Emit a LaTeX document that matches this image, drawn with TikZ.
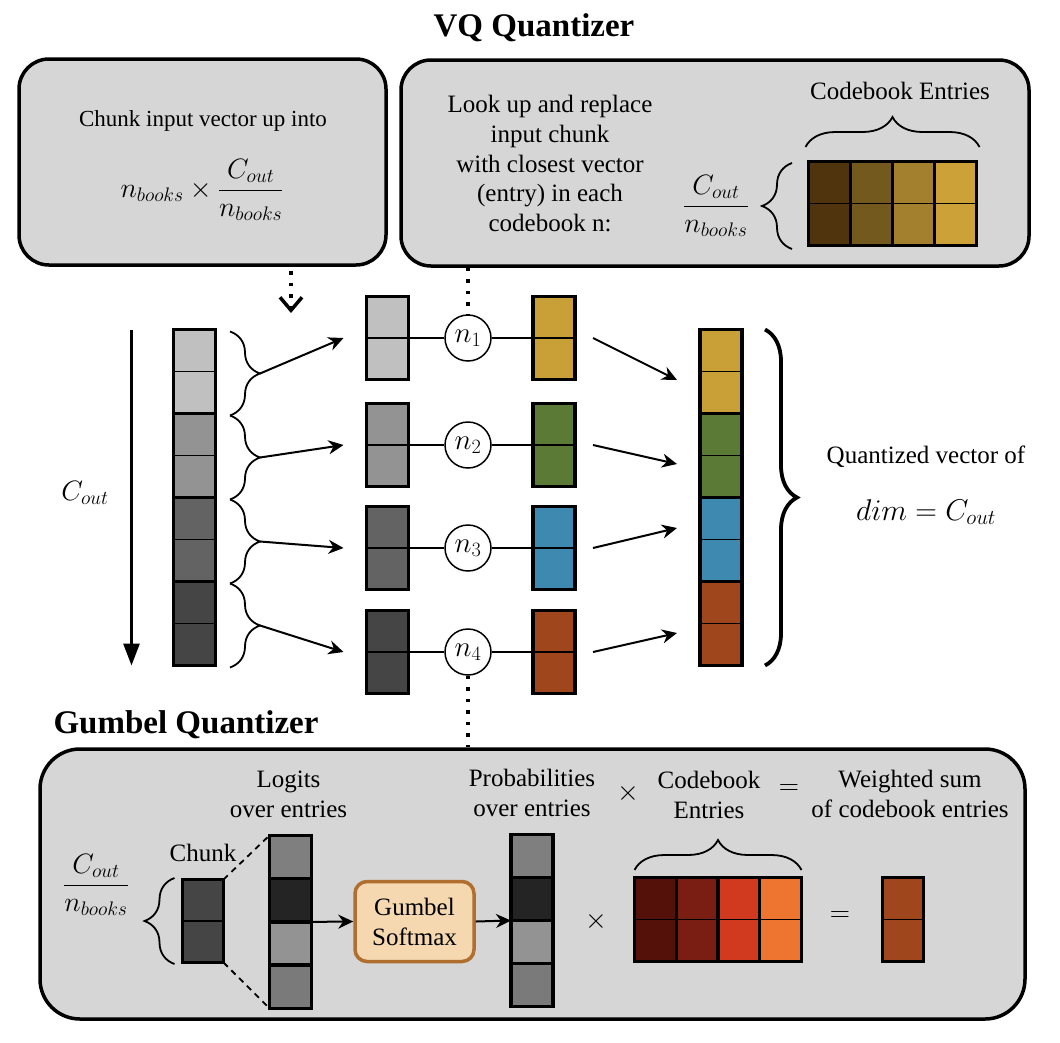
\documentclass[tikz,border=0pt]{standalone}
\usepackage{fix-cm}
\usepackage{amsmath}
\usepackage{fontspec}
\setmainfont{Liberation Serif}
\usetikzlibrary{arrows.meta,decorations.pathreplacing,calc}
\definecolor{boxgray}{RGB}{214,214,214}
\definecolor{g1}{RGB}{192,192,192}
\definecolor{g2}{RGB}{147,147,147}
\definecolor{g3}{RGB}{99,99,99}
\definecolor{g4}{RGB}{69,69,69}
\definecolor{q1}{RGB}{201,159,56}
\definecolor{q2}{RGB}{91,122,53}
\definecolor{q3}{RGB}{62,137,176}
\definecolor{q4}{RGB}{160,70,28}
\definecolor{k1}{RGB}{80,52,14}
\definecolor{k2}{RGB}{116,89,30}
\definecolor{k3}{RGB}{162,128,46}
\definecolor{k4}{RGB}{203,161,56}
\definecolor{bb1}{RGB}{84,17,10}
\definecolor{bb2}{RGB}{122,29,18}
\definecolor{bb3}{RGB}{210,58,32}
\definecolor{bb4}{RGB}{238,117,48}
\definecolor{lg1}{RGB}{127,127,127}
\definecolor{lg2}{RGB}{36,36,36}
\definecolor{lg3}{RGB}{147,147,147}
\definecolor{lg4}{RGB}{122,122,122}
\definecolor{gfill}{RGB}{245,216,176}
\definecolor{gborder}{RGB}{176,111,46}
\begin{document}
\begin{tikzpicture}[x=1pt,y=-1pt,
  bigbox/.style={draw, line width=3.5pt, fill=boxgray, rounded corners=30pt, inner sep=0},
  cellv/.style={draw, line width=3.4pt, minimum width=42pt, minimum height=84pt, inner sep=0, outer sep=0},
  midline/.style={line width=1.6pt},
  lab/.style={font=\fontsize{25}{30}\selectfont, align=center, inner sep=0},
  mlab/.style={font=\fontsize{28}{34}\selectfont, inner sep=0},
  ttl/.style={font=\fontsize{33}{40}\selectfont\bfseries, inner sep=0},
  circ/.style={circle, draw, fill=white, line width=1.5pt, minimum size=46pt, inner sep=0, font=\fontsize{29}{34}\selectfont},
  conn/.style={line width=1.5pt},
  arr/.style={line width=2pt, -{Stealth[length=15pt,width=14pt]}},
  brc/.style={decorate, decoration={brace, amplitude=30pt}, line width=1.8pt},
  dotline/.style={line width=3.5pt, dash pattern=on 3.5pt off 8pt},
  dashline/.style={line width=1.8pt, dash pattern=on 6pt off 5pt}
]
\useasboundingbox (0,0) rectangle (1060,1042);

% ---------- titles ----------
\node[ttl] (vqt) at (534,28) {VQ Quantizer};
\node[ttl] (gqt) at (186,725) {Gumbel Quantizer};

% ---------- top boxes ----------
\node[bigbox, minimum width=367pt, minimum height=206pt] (tl) at (202.5,162) {};
\node[bigbox, minimum width=628pt, minimum height=206pt] (tr) at (715,163) {};
\node[lab, font=\fontsize{23}{28}\selectfont] (tltxt) at (203,121) {Chunk input vector up into};
\node[mlab] (tlmath) at (202,190) {$n_{books}\times\dfrac{C_{out}}{n_{books}}$};
\node[lab, font=\fontsize{25}{29.8}\selectfont] (trtxt) at (550,163.5) {Look up and replace\\input chunk\\with closest vector\\(entry) in each\\codebook n:};
\node[lab] (cbe) at (900,91) {Codebook Entries};
\node[mlab] (trfrac) at (716,206) {$\dfrac{C_{out}}{n_{books}}$};
\foreach \i/\c/\x in {1/k1/829.5, 2/k2/871.5, 3/k3/913.5, 4/k4/955.5}{
  \node[cellv, fill=\c] (K\i) at (\x,203.5) {};
}
\draw[midline] (K1.west) -- (K4.east);
\draw[brc] ($(K1.north west)+(-3,-14.5)$) -- ($(K4.north east)+(3,-14.5)$);
\draw[brc] ($(K1.south west)+(-16.5,3.5)$) -- ($(K1.north west)+(-16.5,1.5)$);

% ---------- bottom box ----------
\node[bigbox, rounded corners=40pt, minimum width=985pt, minimum height=270pt] (gb) at (532.5,884) {};

% ---------- input vector ----------
\foreach \i/\c/\y in {1/g1/371.5, 2/g2/455.5, 3/g3/539.5, 4/g4/623.5}{
  \node[cellv, fill=\c] (L\i) at (194.5,\y) {};
  \draw[midline] (L\i.west) -- (L\i.east);
  \coordinate (t\i) at ($(L\i.east)+(44.5,2)$);
  \draw[brc] ($(L\i.north east)+(14.5,2)$) -- ($(L\i.south east)+(14.5,2)$);
}
\draw[line width=3pt, -{Triangle[length=22pt,width=16pt]}] ($(L1.north west)+(-42,0)$) -- ($(L4.south west)+(-42,0)$);
\node[mlab] (cout) at (85,493) {$C_{out}$};

% ---------- chunks, codebook nodes ----------
\foreach \i/\c/\d/\y in {1/g1/q1/338, 2/g2/q2/445, 3/g3/q3/548, 4/g4/q4/652}{
  \node[cellv, minimum height=83pt, fill=\c] (M\i) at (387.5,\y) {};
  \draw[midline] (M\i.west) -- (M\i.east);
  \node[cellv, minimum height=83pt, fill=\d] (C\i) at (554,\y) {};
  \draw[midline] (C\i.west) -- (C\i.east);
  \node[circ] (n\i) at (468,\y) {$n_{\i}$};
  \draw[conn] (M\i.east) -- (n\i);
  \draw[conn] (n\i) -- (C\i.west);
  \draw[arr] (t\i) -- ($(M\i.west)+(-23,0)$);
}

% ---------- output vector ----------
\foreach \i/\d/\y in {1/q1/371.5, 2/q2/455.5, 3/q3/539.5, 4/q4/623.5}{
  \node[cellv, fill=\d] (O\i) at (721,\y) {};
  \draw[midline] (O\i.west) -- (O\i.east);
}
\draw[arr] ($(C1.east)+(18,0)$) -- ($(O1.west)+(-23,8.5)$);
\draw[arr] ($(C2.east)+(18,0)$) -- ($(O2.west)+(-23,8.5)$);
\draw[arr] ($(C3.east)+(18,0)$) -- ($(O3.west)+(-23,-11.5)$);
\draw[arr] ($(C4.east)+(18,0)$) -- ($(O4.west)+(-23,9.5)$);
\draw[brc, line width=3.8pt, decoration={brace, amplitude=32pt}] ($(O1.north east)+(23,0)$) -- ($(O4.south east)+(23,0)$);
\node[lab] (qv) at (926,457) {Quantized vector of};
\node[mlab, font=\fontsize{30}{36}\selectfont] (qdim) at (926,512) {$dim = C_{out}$};

% ---------- dotted links ----------
\coordinate (da) at (291,271);
\coordinate (db) at (291,313);
\draw[dotline, -{Straight Barb[length=13pt,width=22pt]}] (da) -- (db);
\draw[dotline] (n1 |- tr.south) -- (n1.north);
\draw[dotline] (n4.south) -- (n4 |- gb.north);

% ---------- gumbel contents ----------
\node[lab] (lgt) at (288.5,794) {Logits\\over entries};
\node[lab] (pbt) at (532,793) {Probabilities\\over entries};
\node[mlab] (x1) at (628,793) {$\times$};
\node[lab] (cbt) at (709,795) {Codebook\\Entries};
\node[mlab] (e1) at (789,790) {$=$};
\node[lab] (wst) at (910,794) {Weighted sum\\of codebook entries};
\node[mlab] (gfrac) at (96,885) {$\dfrac{C_{out}}{n_{books}}$};
\node[lab] (chl) at (203,853) {Chunk};
\node[cellv, minimum width=41pt, minimum height=83pt, fill=g4] (ch) at (203,921) {};
\draw[midline] (ch.west) -- (ch.east);
\draw[brc] ($(ch.south west)+(-8,1.5)$) -- ($(ch.north west)+(-8,-1.5)$);
\foreach \i/\c/\y in {1/lg1/857, 2/lg2/900.25, 3/lg3/943.5, 4/lg4/986.75}{
  \node[cellv, minimum height=43.25pt, fill=\c] (G\i) at (290.5,\y) {};
}
\foreach \i/\c/\y in {1/lg1/856, 2/lg2/899, 3/lg3/942, 4/lg4/985}{
  \node[cellv, minimum height=43pt, fill=\c] (P\i) at (532,\y) {};
}
\draw[dashline] (ch.north east) -- (G1.north west);
\draw[dashline] (ch.south east) -- (G4.south west);
\node[draw=gborder, fill=gfill, line width=3.5pt, rounded corners=12pt, minimum width=119pt, minimum height=80pt, lab] (gs) at (414.5,921.5) {Gumbel\\Softmax};
\draw[arr] (G2.south east) -- (gs.west);
\draw[arr] (gs.east) -- (P2.south west);
\node[mlab] (x2) at (596,921) {$\times$};
\foreach \i/\c/\x in {1/bb1/655.4, 2/bb2/697.1, 3/bb3/738.9, 4/bb4/780.6}{
  \node[cellv, minimum width=41.75pt, fill=\c] (B\i) at (\x,919.5) {};
}
\draw[midline] (B1.west) -- (B4.east);
\draw[brc] ($(B1.north west)+(0,-7.5)$) -- ($(B4.north east)+(0,-7.5)$);
\node[mlab] (e2) at (840,917) {$=$};
\node[cellv, minimum width=41pt, fill=q4] (R) at (903,919.5) {};
\draw[midline] (R.west) -- (R.east);
\end{tikzpicture}
\end{document}
